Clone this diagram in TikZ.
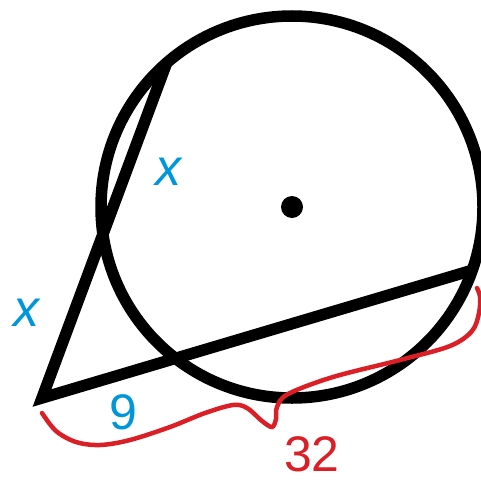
\documentclass[tikz,border=0pt]{standalone}
\usepackage{fontspec}
\setmainfont{Liberation Sans}
\definecolor{labelblue}{RGB}{0,150,220}
\definecolor{bracered}{RGB}{218,32,38}
\begin{document}
\begin{tikzpicture}[x=1pt,y=-1pt,
    seg/.style={line width=11.5pt,line join=miter},
    lbl/.style={inner sep=0pt,font=\fontsize{50}{50}\selectfont}]
  \useasboundingbox (0,0) rectangle (481,479);
  % Circle and centre
  \coordinate (O) at (292,207);
  \draw[seg] (O) circle (191);
  \fill (O) circle (11);
  % Secants from the outside point
  \coordinate (A) at (42,398);
  \coordinate (C) at (167,62);
  \coordinate (D) at (473,270);
  \draw[seg] (C) -- (A) -- (D);
  % Brace under the long secant
  \draw[bracered,line width=4.5pt,line cap=round] plot[smooth,tension=0.55] coordinates {
    (42,413) (56,431) (76,442) (100,445) (130,440) (170,427) (205,413)
    (233,405) (247,408) (262,421) (272,427) (276,419) (277,407) (288,394)
    (333,377) (400,360) (450,346) (472,331) (479,313) (480,297) (477,288)};
  % Labels
  \node[lbl,text=labelblue,font=\fontsize{52}{52}\selectfont\itshape] (xout) at (26,313) {x};
  \node[lbl,text=labelblue,font=\fontsize{52}{52}\selectfont\itshape] (xin) at (168,172) {x};
  \node[lbl,text=labelblue] (nine) at (123,412) {9};
  \node[lbl,text=bracered] (len) at (312,454) {32};
\end{tikzpicture}
\end{document}
